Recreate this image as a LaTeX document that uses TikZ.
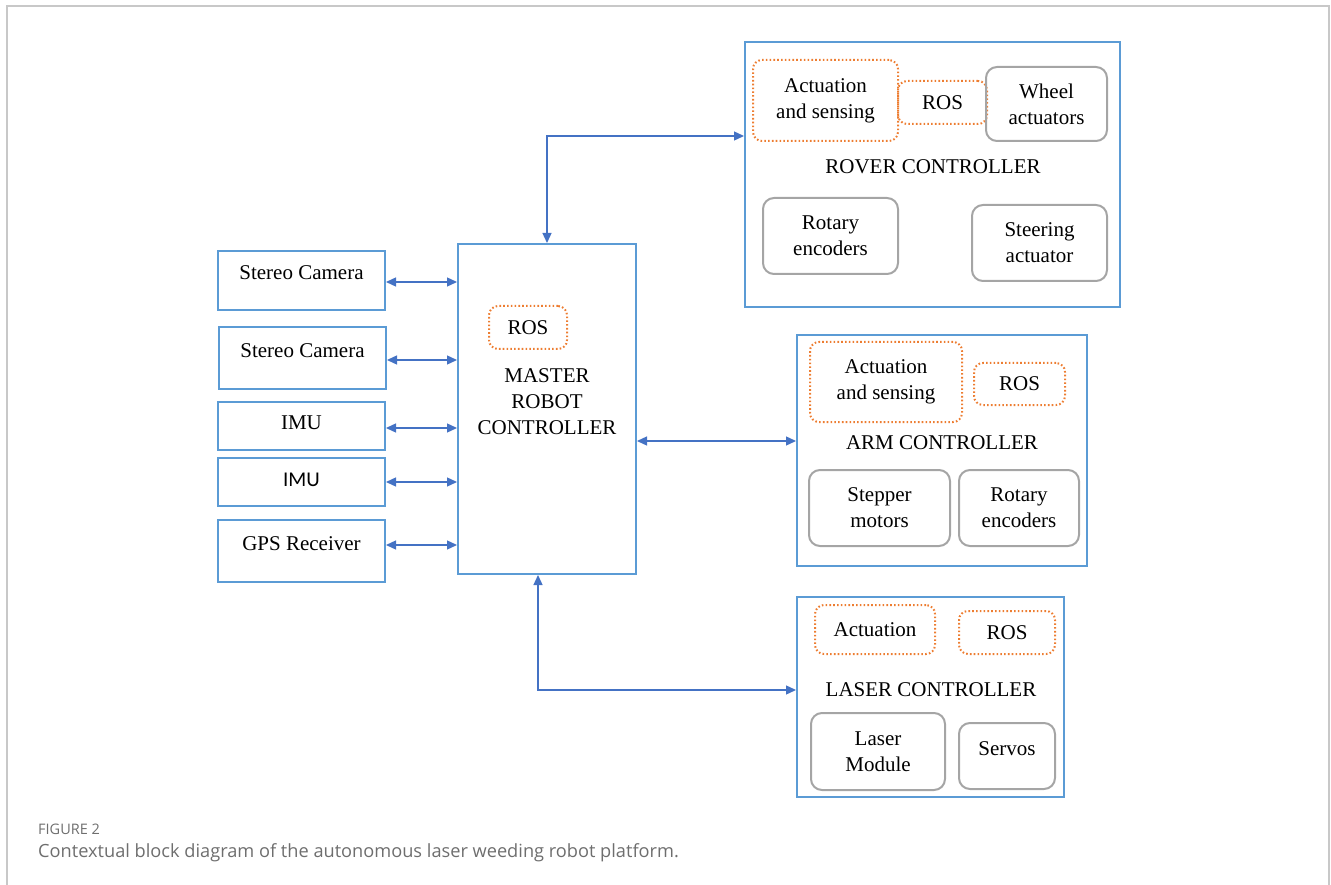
\documentclass[tikz,border=0pt]{standalone}
\usepackage{fontspec}
\setmainfont{Liberation Serif}
\newfontfamily\capfont{Open Sans}
\newfontfamily\calfont{Carlito}
\usepackage{tikz}
\usetikzlibrary{arrows.meta, positioning, calc}
\definecolor{boxblue}{RGB}{91,155,213}
\definecolor{linkblue}{RGB}{68,114,196}
\definecolor{rosorange}{RGB}{237,125,49}
\definecolor{partgray}{RGB}{165,165,165}
\definecolor{framegray}{RGB}{200,200,200}
\definecolor{capgray}{RGB}{110,110,110}
\tikzset{
  ctrlbox/.style={rectangle, draw=boxblue, line width=2pt, inner sep=0pt},
  sensbox/.style={rectangle, draw=boxblue, line width=2pt, inner sep=0pt,
    minimum width=167pt, font=\fontsize{21}{26}\selectfont},
  rosbox/.style={rectangle, draw=rosorange, line width=2pt, rounded corners=9pt,
    dash pattern=on 1.6pt off 2.2pt, inner sep=0pt, align=center,
    font=\fontsize{21}{26}\selectfont},
  partbox/.style={rectangle, draw=partgray, line width=2pt, rounded corners=11pt,
    inner sep=0pt, align=center, font=\fontsize{21}{26}\selectfont},
  ctrltext/.style={align=center, inner sep=0pt, font=\fontsize{21}{26}\selectfont},
  link/.style={{Triangle[length=10pt,width=9pt]}-{Triangle[length=10pt,width=9pt]},
    line width=1.3pt, color=linkblue}
}
\begin{document}
\begin{tikzpicture}[x=1pt, y=-1pt]
  \useasboundingbox (0,0) rectangle (1331,885);
  \clip (0,0) rectangle (1331,885);
  % page frame
  \draw[framegray, line width=1.2pt] (7,930) -- (7,6) -- (1329,6) -- (1329,930);

  % Master robot controller
  \node[ctrlbox, minimum width=178pt, minimum height=330pt] (master) at (547,409) {};
  \node[rosbox, minimum width=78pt, minimum height=43pt] (mros) at (528,327.5) {ROS};
  \node[ctrltext] (mtext) at (547,401.5) {MASTER\\ROBOT\\CONTROLLER};

  % Sensors on the left
  \node[sensbox, minimum height=59pt, text depth=15pt] (cam1) at (301.5,280.5) {Stereo Camera};
  \node[sensbox, minimum height=62pt, text depth=14pt] (cam2) at (302.5,358) {Stereo Camera};
  \node[sensbox, minimum height=48pt, text depth=6pt] (imu1) at (301.5,426) {IMU};
  \node[sensbox, minimum height=48pt, text depth=4pt, font=\calfont\fontsize{21}{26}\selectfont] (imu2) at (301.5,482) {IMU};
  \node[sensbox, minimum height=62pt, text depth=14pt] (gps) at (301.5,551) {GPS Receiver};

  % Rover controller
  \node[ctrlbox, minimum width=375pt, minimum height=265pt] (rover) at (932.5,174.5) {};
  \node[rosbox, minimum width=145pt, minimum height=81pt] (ract) at (825.5,100.5) {Actuation\\and sensing};
  \node[rosbox, minimum width=89pt, minimum height=43pt] (rros) at (942.5,102.5) {ROS};
  \node[partbox, minimum width=121pt, minimum height=74pt] (rwheel) at (1046.5,104) {Wheel\\actuators};
  \node[ctrltext] (rtext) at (933,167) {ROVER CONTROLLER};
  \node[partbox, minimum width=135pt, minimum height=76pt] (renc) at (830.5,236) {Rotary\\encoders};
  \node[partbox, minimum width=135pt, minimum height=76pt] (rsteer) at (1039.5,243) {Steering\\actuator};

  % Arm controller
  \node[ctrlbox, minimum width=290pt, minimum height=231pt] (arm) at (942,450.5) {};
  \node[rosbox, minimum width=152pt, minimum height=80pt] (aact) at (886,382) {Actuation\\and sensing};
  \node[rosbox, minimum width=91pt, minimum height=42pt] (aros) at (1019.5,384) {ROS};
  \node[ctrltext] (atext) at (942,443) {ARM CONTROLLER};
  \node[partbox, minimum width=141pt, minimum height=76pt] (astep) at (879.5,508) {Stepper\\motors};
  \node[partbox, minimum width=120pt, minimum height=76pt] (aenc) at (1019,508) {Rotary\\encoders};

  % Laser controller
  \node[ctrlbox, minimum width=267pt, minimum height=200pt] (laser) at (930.5,697) {};
  \node[rosbox, minimum width=120pt, minimum height=49pt] (lact) at (875,629.5) {Actuation};
  \node[rosbox, minimum width=96pt, minimum height=43pt, text depth=-2pt] (lros) at (1007,632.5) {ROS};
  \node[ctrltext] (ltext) at (931,690) {LASER CONTROLLER};
  \node[partbox, minimum width=134pt, minimum height=77pt] (lmod) at (878,751.5) {Laser\\Module};
  \node[partbox, minimum width=96pt, minimum height=66pt, text depth=14pt] (lservo) at (1007,756) {Servos};

  % Links between the blocks
  \draw[link] ([yshift=-1.5pt]cam1.east) -- ([yshift=-1.5pt]cam1.east -| master.west);
  \draw[link] ([yshift=-2pt]cam2.east) -- ([yshift=-2pt]cam2.east -| master.west);
  \draw[link] ([yshift=-2pt]imu1.east) -- ([yshift=-2pt]imu1.east -| master.west);
  \draw[link] (imu2.east) -- (imu2.east -| master.west);
  \draw[link] ([yshift=6pt]gps.east) -- ([yshift=6pt]gps.east -| master.west);
  \coordinate (rin) at ([yshift=38.5pt]rover.west);
  \coordinate (ain) at ([yshift=9.5pt]arm.west);
  \coordinate (lin) at ([yshift=7pt]laser.west);
  \draw[link] (master.north) |- (rin);
  \draw[link] (master.east |- ain) -- (ain);
  \draw[link] ([xshift=-9pt]master.south) |- (lin);

  % Caption
  \node[anchor=base west, inner sep=0pt, text=capgray, font=\capfont\fontsize{14.5}{17}\selectfont] (figno) at (38,834) {FIGURE 2};
  \node[anchor=base west, inner sep=0pt, text=capgray, font=\capfont\fontsize{18.2}{22}\selectfont] (captxt) at (38,857) {Contextual block diagram of the autonomous laser weeding robot platform.};
\end{tikzpicture}
\end{document}
